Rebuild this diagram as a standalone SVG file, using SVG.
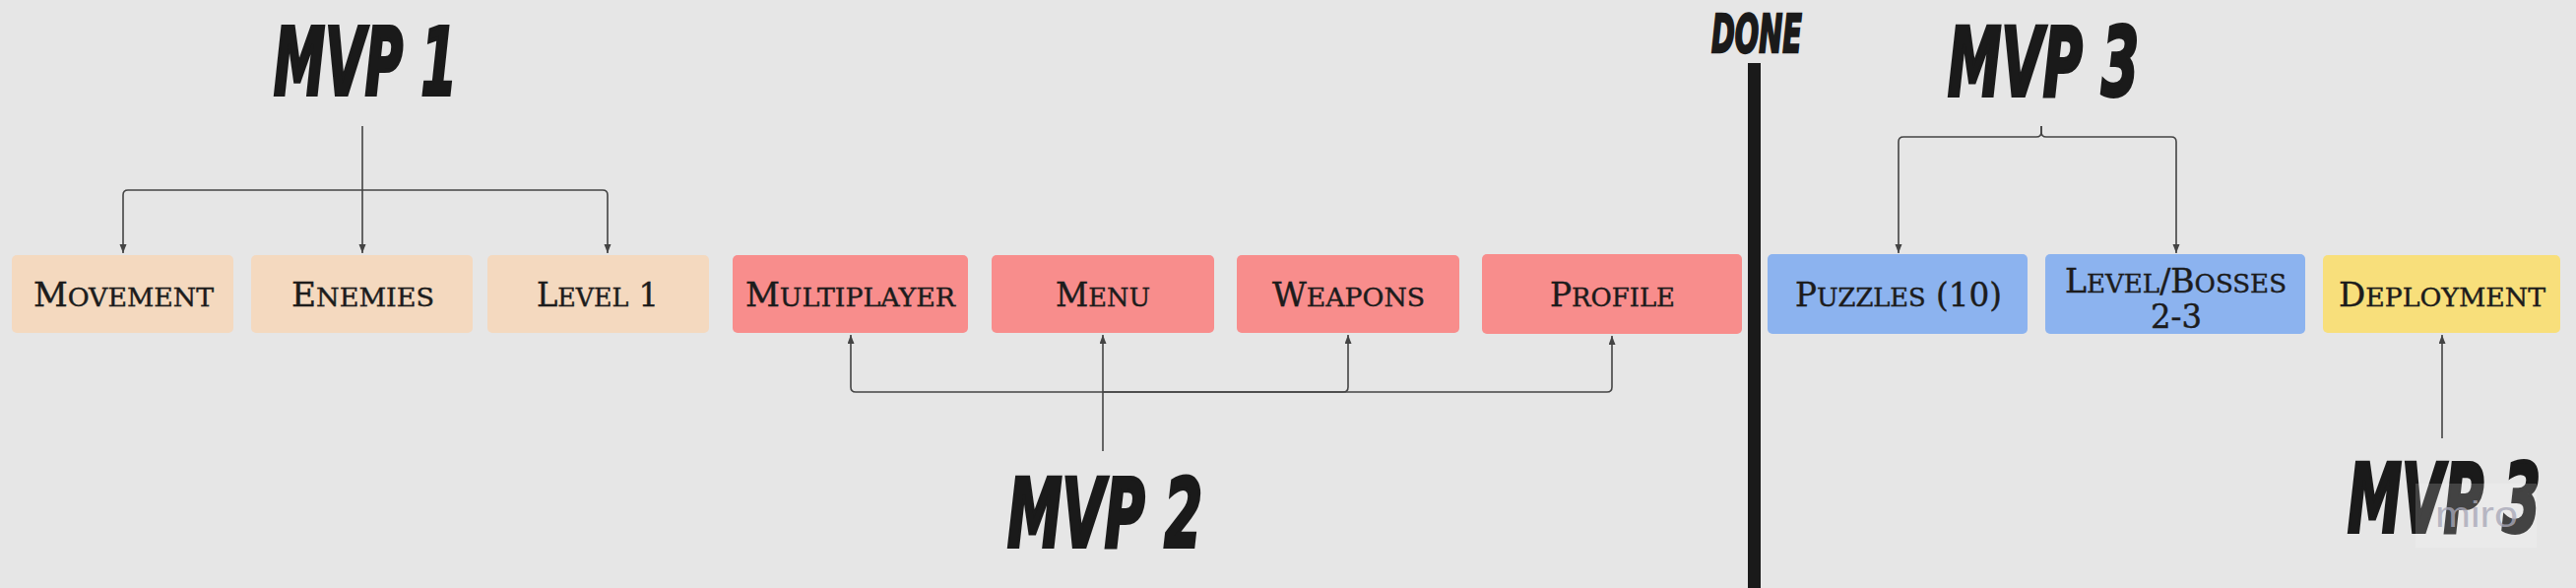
<svg xmlns="http://www.w3.org/2000/svg" width="2616" height="597" viewBox="0 0 2616 597">
<style>
.bg{fill:#e6e6e6}
.box{rx:5;ry:5}
.peach{fill:#f4d9bf}
.red{fill:#f88d8c}
.blue{fill:#8cb3ef}
.yellow{fill:#f8df7b}
.lbl{font-family:"DejaVu Serif Condensed","DejaVu Serif",serif;font-size:33px;fill:#1c1c1c;stroke:#1c1c1c;stroke-width:0.4;text-anchor:middle}
.sc{font-size:26px}
.head{font-family:"DejaVu Sans","Liberation Sans",sans-serif;font-weight:bold;font-style:italic;fill:#1a1a1a;stroke:#1a1a1a;stroke-width:4;stroke-linejoin:miter}
.conn{fill:none;stroke:#444;stroke-width:1.6}
</style>
<defs>
<marker id="arr" markerUnits="userSpaceOnUse" markerWidth="12" markerHeight="10" refX="9" refY="3.5" orient="auto">
<path d="M0,0 L9,3.5 L0,7 Z" fill="#444"/>
</marker>
</defs>
<rect class="bg" x="0" y="0" width="2616" height="597"/>

<g id="heading-mvp1"><text class="head" x="278" y="96" font-size="95" textLength="186" lengthAdjust="spacingAndGlyphs">MVP 1</text></g>
<g id="heading-mvp2"><text class="head" x="1023" y="555" font-size="96" textLength="198" lengthAdjust="spacingAndGlyphs">MVP 2</text></g>
<g id="heading-mvp3-top"><text class="head" x="1978" y="97" font-size="96" textLength="194" lengthAdjust="spacingAndGlyphs">MVP 3</text></g>
<g id="heading-mvp3-bottom"><text class="head" x="2384" y="540" font-size="96" textLength="196" lengthAdjust="spacingAndGlyphs">MVP 3</text></g>
<g id="done-label"><text class="head" x="1738" y="53" font-size="53" textLength="92" lengthAdjust="spacingAndGlyphs" style="stroke-width:2.5">DONE</text></g>
<g id="done-bar"><rect x="1775" y="64" width="13" height="533" fill="#1a1a1a"/></g>

<g id="connectors">
<path class="conn" d="M368,128 V257" marker-end="url(#arr)"/>
<path class="conn" d="M368,193 H130 Q125,193 125,198 V257" marker-end="url(#arr)"/>
<path class="conn" d="M368,193 H612 Q617,193 617,198 V257" marker-end="url(#arr)"/>

<path class="conn" d="M1120,458 V340" marker-end="url(#arr)"/>
<path class="conn" d="M1120,398 H869 Q864,398 864,393 V340" marker-end="url(#arr)"/>
<path class="conn" d="M1120,398 H1364 Q1369,398 1369,393 V340" marker-end="url(#arr)"/>
<path class="conn" d="M1120,398 H1632 Q1637,398 1637,393 V341" marker-end="url(#arr)"/>

<path class="conn" d="M2073,128 V134 Q2073,139 2068,139 H1933 Q1928,139 1928,144 V257" marker-end="url(#arr)"/>
<path class="conn" d="M2073,128 V134 Q2073,139 2078,139 H2205 Q2210,139 2210,144 V257" marker-end="url(#arr)"/>

<path class="conn" d="M2480,445 V340" marker-end="url(#arr)"/>
</g>

<g id="node-movement"><rect class="box peach" x="12" y="259" width="225" height="79"/>
<text class="lbl" x="125.5" y="311" textLength="183" lengthAdjust="spacingAndGlyphs">M<tspan class="sc">OVEMENT</tspan></text></g>
<g id="node-enemies"><rect class="box peach" x="255" y="259" width="225" height="79"/>
<text class="lbl" x="368.5" y="311" textLength="145" lengthAdjust="spacingAndGlyphs">E<tspan class="sc">NEMIES</tspan></text></g>
<g id="node-level1"><rect class="box peach" x="495" y="259" width="225" height="79"/>
<text class="lbl" x="607" y="311" textLength="124" lengthAdjust="spacingAndGlyphs">L<tspan class="sc">EVEL</tspan> 1</text></g>

<g id="node-multiplayer"><rect class="box red" x="744" y="259" width="239" height="79"/>
<text class="lbl" x="863.5" y="311" textLength="213" lengthAdjust="spacingAndGlyphs">M<tspan class="sc">ULTIPLAYER</tspan></text></g>
<g id="node-menu"><rect class="box red" x="1007" y="259" width="226" height="79"/>
<text class="lbl" x="1120" y="311" textLength="96" lengthAdjust="spacingAndGlyphs">M<tspan class="sc">ENU</tspan></text></g>
<g id="node-weapons"><rect class="box red" x="1256" y="259" width="226" height="79"/>
<text class="lbl" x="1369.5" y="311" textLength="155" lengthAdjust="spacingAndGlyphs">W<tspan class="sc">EAPONS</tspan></text></g>
<g id="node-profile"><rect class="box red" x="1505" y="258" width="264" height="81"/>
<text class="lbl" x="1637.5" y="311" textLength="127" lengthAdjust="spacingAndGlyphs">P<tspan class="sc">ROFILE</tspan></text></g>

<g id="node-puzzles"><rect class="box blue" x="1795" y="258" width="264" height="81"/>
<text class="lbl" x="1928" y="311" textLength="210" lengthAdjust="spacingAndGlyphs">P<tspan class="sc">UZZLES</tspan> (10)</text></g>
<g id="node-levelbosses"><rect class="box blue" x="2077" y="258" width="264" height="81"/>
<text class="lbl" x="2209.5" y="297" textLength="225" lengthAdjust="spacingAndGlyphs">L<tspan class="sc">EVEL</tspan>/B<tspan class="sc">OSSES</tspan></text>
<text class="lbl" x="2210" y="333" textLength="52" lengthAdjust="spacingAndGlyphs">2-3</text></g>
<g id="node-deployment"><rect class="box yellow" x="2359" y="259" width="241" height="79"/>
<text class="lbl" x="2480" y="311" textLength="210" lengthAdjust="spacingAndGlyphs">D<tspan class="sc">EPLOYMENT</tspan></text></g>

<g id="watermark">
<rect x="2453" y="491" width="123" height="65" fill="#ffffff" fill-opacity="0.18"/>
<text x="2473" y="535" font-family="Liberation Sans,sans-serif" font-size="36" fill="#a8a8b8" fill-opacity="0.8" textLength="84" lengthAdjust="spacingAndGlyphs">miro</text>
</g>
</svg>
